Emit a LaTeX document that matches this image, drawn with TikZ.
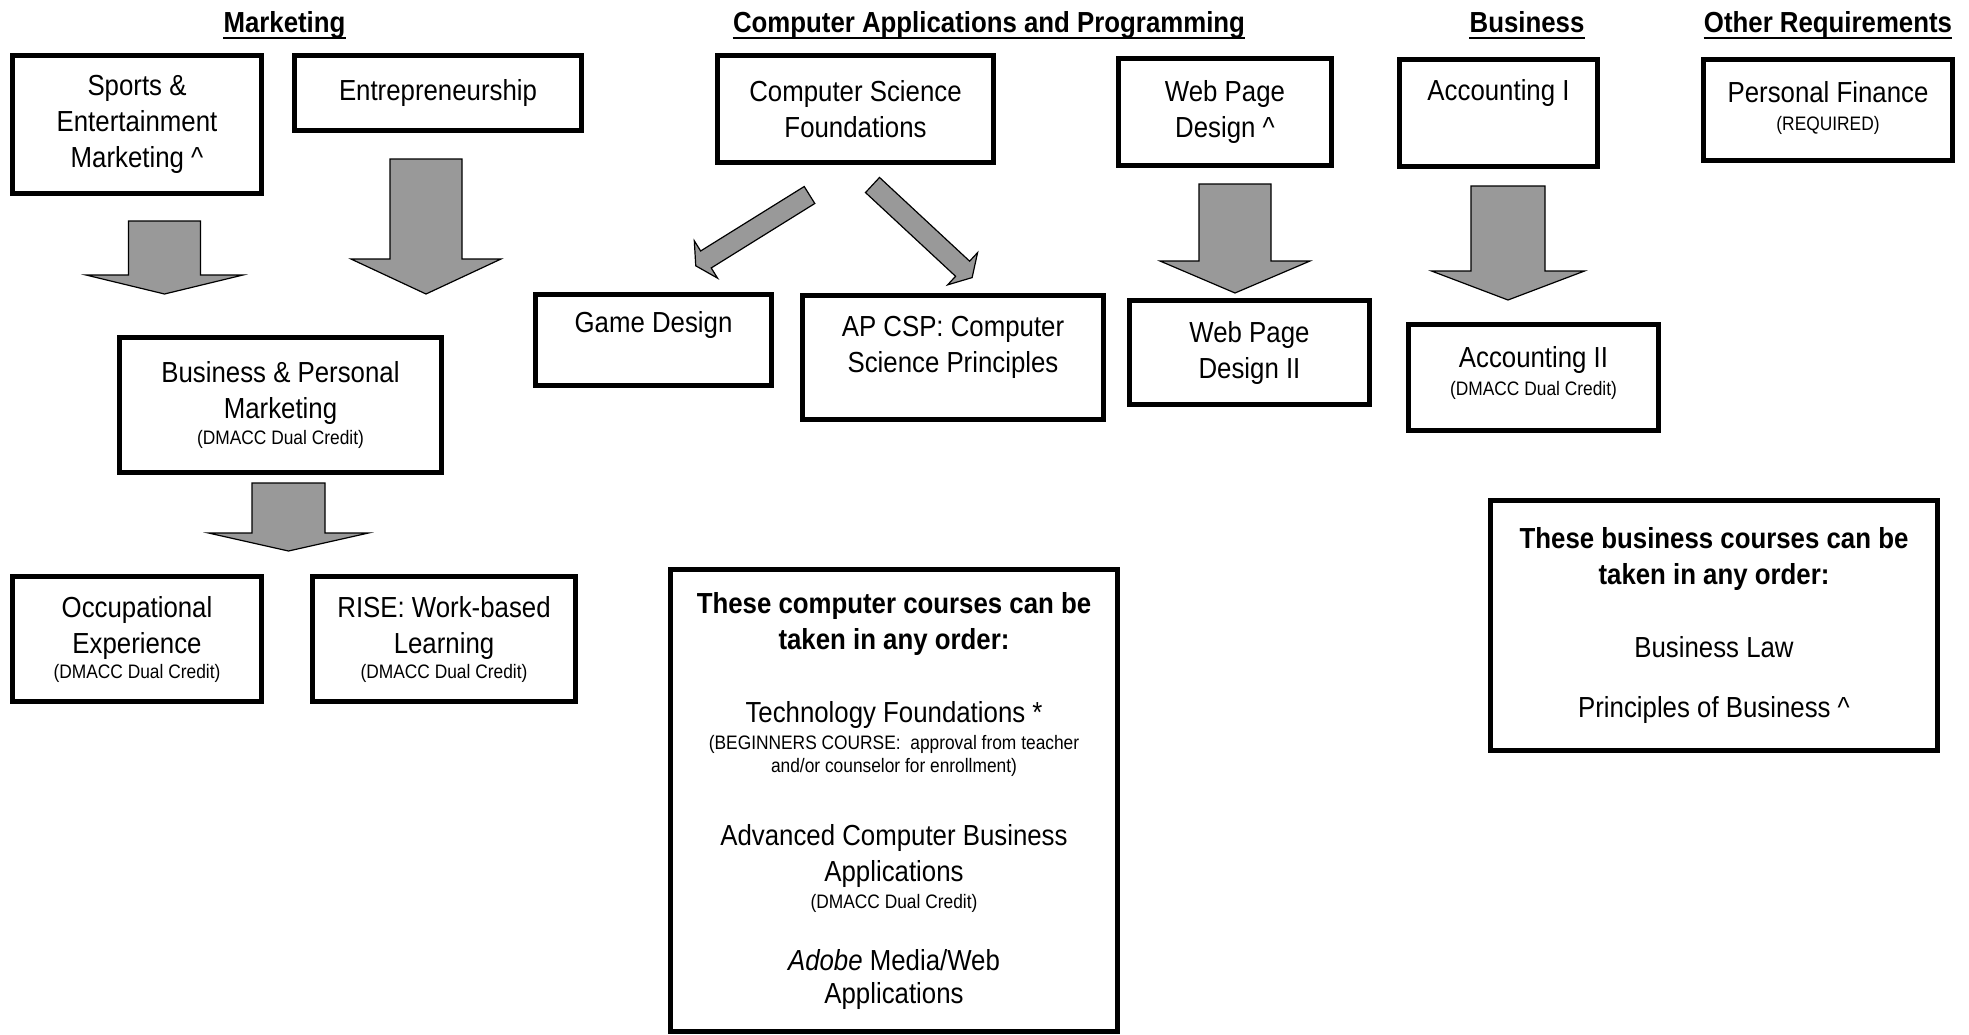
\documentclass[tikz,border=0pt]{standalone}
\usepackage{fontspec}
\setmainfont{Liberation Sans}[FakeStretch=0.89]
\definecolor{arrowgray}{RGB}{153,153,153}
\newcommand{\note}[1]{{\fontsize{9.75}{11.5}\selectfont #1}}
% x, y, angle, length, head length, shaft half width, head half width
\newcommand{\blockarrow}[7]{%
    \draw[barrow,shift={(#1,#2)},rotate=#3] (0,-#6) -- ({#4-#5},-#6) -- ({#4-#5},-#7) -- (#4,0) -- ({#4-#5},#7) -- ({#4-#5},#6) -- (0,#6) -- cycle;}

\begin{document}
\begin{tikzpicture}[x=0.5pt,y=-0.5pt,
    course/.style={draw,line width=2.5pt,align=center,inner sep=0pt,font=\fontsize{14.5}{18}\selectfont},
    heading/.style={anchor=base,inner sep=0pt,font=\fontsize{14.5}{18}\selectfont\bfseries},
    barrow/.style={draw=black,line width=0.6pt,fill=arrowgray}]
    \useasboundingbox (0,0) rectangle (1969,1034);
    % column headings
    \node[heading] (mkt) at (284.5,32) {Marketing};
    \node[heading] (cap) at (989,32) {Computer Applications and Programming};
    \node[heading] (bus) at (1527,32) {Business};
    \node[heading] (req) at (1828,32) {Other Requirements};
    \foreach \n in {mkt,cap,bus,req}
        \draw[line width=1.2pt] ([yshift=-2.85pt]\n.base west) -- ([yshift=-2.85pt]\n.base east);
    % marketing
    \node[course,minimum width=124.5pt,minimum height=69pt] (sem) at (137,124.5) {Sports \&\\Entertainment\\Marketing \textasciicircum};
    \node[course,minimum width=143.5pt,minimum height=37.5pt] (ent) at (438,93) {Entrepreneurship};
    \node[course,minimum width=161pt,minimum height=67.5pt] (bpm) at (280.5,405) {Business \& Personal\\Marketing\\[-5pt]\note{(DMACC Dual Credit)}};
    \node[course,minimum width=124.5pt,minimum height=62.5pt] (occ) at (137,639) {Occupational\\Experience\\[-5.5pt]\note{(DMACC Dual Credit)}};
    \node[course,minimum width=131.5pt,minimum height=62.5pt] (rise) at (444,639) {RISE: Work-based\\Learning\\[-5.5pt]\note{(DMACC Dual Credit)}};
    \blockarrow{164.5}{221}{-90}{73}{19}{36}{78.5}
    \blockarrow{426}{159}{-90}{135}{35}{36}{75}
    \blockarrow{288.5}{483}{-90}{68}{18}{36.5}{80}
    % computer applications and programming
    \node[course,minimum width=138pt,minimum height=53.5pt] (csf) at (855.5,109) {Computer Science\\Foundations};
    \node[course,minimum width=118pt,minimum height=45.5pt] (game) at (653.5,340) {Game Design\\ \mbox{}};
    \node[course,minimum width=150.5pt,minimum height=62pt] (apcsp) at (953,357.5) {AP CSP: Computer\\Science Principles\\[-5pt]\mbox{}};
    \node[course,minimum width=106.5pt,minimum height=53.5pt] (web) at (1225,112) {Web Page\\Design \textasciicircum};
    \node[course,minimum width=120pt,minimum height=52pt] (webii) at (1249.5,352.5) {Web Page\\Design II};
    \blockarrow{809.5}{195}{-148.1}{134}{12}{10}{22}
    \blockarrow{872.5}{185}{-42.9}{136}{13}{10.3}{22}
    \blockarrow{1235}{184}{-90}{109}{32}{36}{75}
    \node[course,minimum width=223.5pt,minimum height=231pt] (anycomp) at (894,800.5) {%
        {\bfseries These computer courses can be}\\
        {\bfseries taken in any order:}\\[18.5pt]
        Technology Foundations *\\[-4.5pt]
        \note{(BEGINNERS COURSE:\ \ approval from teacher}\\[-6.5pt]
        \note{and/or counselor for enrollment)}\\[18.5pt]
        Advanced Computer Business\\
        Applications\\[-4.5pt]
        \note{(DMACC Dual Credit)}\\[13pt]
        \textit{Adobe} Media/Web\\[-1.5pt]
        Applications};
    % business
    \node[course,minimum width=99pt,minimum height=53.5pt] (acci) at (1498.5,113) {Accounting I\\[5.5pt]\mbox{}};
    \node[course,minimum width=125pt,minimum height=53pt] (accii) at (1533.5,377.5) {Accounting II\\[-4pt]\note{(DMACC Dual Credit)}\\[-11pt]\mbox{}};
    \blockarrow{1508}{186}{-90}{114}{29}{37}{76.5}
    \node[course,minimum width=223.5pt,minimum height=125pt] (anybus) at (1714,625.5) {%
        {\bfseries These business courses can be}\\
        {\bfseries taken in any order:}\\[18.5pt]
        Business Law\\[12pt]
        Principles of Business \textasciicircum};
    % other requirements
    \node[course,minimum width=124.75pt,minimum height=50.5pt] (pf) at (1828,110) {Personal Finance\\[-4pt]\note{(REQUIRED)}\\[-14pt]\mbox{}};
\end{tikzpicture}
\end{document}
